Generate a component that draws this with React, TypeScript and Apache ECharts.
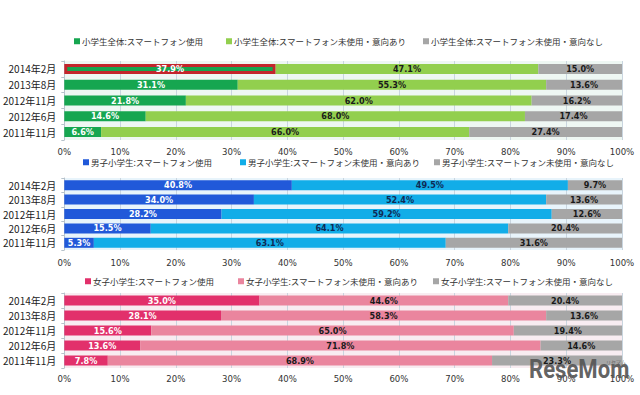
import React, { useEffect, useRef } from "react";
import * as echarts from "echarts";

const categories = ["2014年2月", "2013年8月", "2012年11月", "2012年6月", "2011年11月"];

const allNames = ["小学生全体:スマートフォン使用", "小学生全体:スマートフォン未使用・意向あり", "小学生全体:スマートフォン未使用・意向なし"];
const allUse = [37.9, 31.1, 21.8, 14.6, 6.6];
const allWant = [47.1, 55.3, 62.0, 68.0, 66.0];
const allNo = [15.0, 13.6, 16.2, 17.4, 27.4];

const boyNames = ["男子小学生:スマートフォン使用", "男子小学生:スマートフォン未使用・意向あり", "男子小学生:スマートフォン未使用・意向なし"];
const boyUse = [40.8, 34.0, 28.2, 15.5, 5.3];
const boyWant = [49.5, 52.4, 59.2, 64.1, 63.1];
const boyNo = [9.7, 13.6, 12.6, 20.4, 31.6];

const girlNames = ["女子小学生:スマートフォン使用", "女子小学生:スマートフォン未使用・意向あり", "女子小学生:スマートフォン未使用・意向なし"];
const girlUse = [35.0, 28.1, 15.6, 13.6, 7.8];
const girlWant = [44.6, 58.3, 65.0, 71.8, 68.9];
const girlNo = [20.4, 13.6, 19.4, 14.6, 23.3];

const xMin = 0;
const xMax = 100;
const xStep = 10;

const CJK = "'Noto Sans CJK JP', 'Noto Sans', sans-serif";
const NUM = "'Liberation Sans Narrow', 'DejaVu Sans Condensed', 'Liberation Sans', sans-serif";

const panels = [
  {
    names: allNames,
    data: [allUse, allWant, allNo],
    colors: ["#16a650", "#92cf4e", "#a6a6a6"],
    labelColors: ["#ffffff", "#1a1a1a", "#1a1a1a"],
    grid: { top: 61, height: 79 },
    bg: "#eef7f3",
    legendY: 43,
    legendX: [74, 226, 423],
    highlight: 0,
    labelMargin: 6,
  },
  {
    names: boyNames,
    data: [boyUse, boyWant, boyNo],
    colors: ["#2159d9", "#12ade8", "#a6a6a6"],
    labelColors: ["#ffffff", "#0f2a55", "#1a1a1a"],
    grid: { top: 178, height: 72 },
    bg: "#e8f4fb",
    legendY: 164,
    legendX: [83, 240, 434],
    highlight: -1,
    labelMargin: 7,
  },
  {
    names: girlNames,
    data: [girlUse, girlWant, girlNo],
    colors: ["#e2306b", "#ea859e", "#a6a6a6"],
    labelColors: ["#ffffff", "#1a1a1a", "#1a1a1a"],
    grid: { top: 293, height: 75 },
    bg: "#f8ecf1",
    legendY: 283,
    legendX: [85, 238, 433],
    highlight: -1,
    labelMargin: 5,
  },
];

export default function App() {
  const ref = useRef<HTMLDivElement>(null);
  useEffect(() => {
    if (!ref.current) return;
    const chart = echarts.init(ref.current, null, { renderer: "svg" });

    const grids: any[] = [];
    const xAxes: any[] = [];
    const yAxes: any[] = [];
    const series: any[] = [];
    const legends: any[] = [];

    panels.forEach((p, pi) => {
      grids.push({
        left: 58,
        right: 18,
        top: p.grid.top,
        height: p.grid.height,
        show: true,
        backgroundColor: p.bg,
        borderWidth: 0,
      });
      xAxes.push({
        type: "value",
        gridIndex: pi,
        min: xMin,
        max: xMax,
        interval: xStep,
        axisLine: { show: false },
        axisTick: { show: false },
        splitLine: { show: true, lineStyle: { color: "#c9d5df", width: 1 } },
        axisLabel: {
          formatter: "{value}%",
          fontSize: 9.5,
          color: "#333",
          fontFamily: NUM,
          margin: p.labelMargin,
        },
      });
      yAxes.push({
        type: "category",
        gridIndex: pi,
        data: categories,
        inverse: true,
        axisLine: { show: true, lineStyle: { color: "#b7c3cc" } },
        axisTick: { show: true, length: 3, lineStyle: { color: "#b7c3cc" } },
        axisLabel: { fontSize: 10, color: "#222", fontFamily: CJK, margin: 8 },
      });
      p.names.forEach((name, si) => {
        series.push({
          type: "bar",
          name,
          stack: "s" + pi,
          xAxisIndex: pi,
          yAxisIndex: pi,
          barWidth: 10,
          itemStyle: { color: p.colors[si] },
          label: {
            show: true,
            position: "inside",
            formatter: (v: any) => Number(v.value).toFixed(1) + "%",
            color: p.labelColors[si],
            fontSize: 9,
            fontWeight: "bold",
            fontFamily: NUM,
          },
          data: p.data[si].map((v, di) =>
            si === 0 && di === p.highlight
              ? { value: v, itemStyle: { borderColor: "#c3262c", borderWidth: 3 } }
              : v
          ),
        });
        legends.push({
          data: [name],
          left: p.legendX[si],
          top: p.legendY - 6,
          padding: 0,
          icon: "rect",
          itemWidth: 6,
          itemHeight: 6,
          itemGap: 3,
          selectedMode: false,
          textStyle: { fontSize: 8.5, color: "#333", fontFamily: CJK, padding: [0, 0, 0, -3] },
        });
      });
    });

    chart.setOption({
      animation: false,
      backgroundColor: "#ffffff",
      grid: grids,
      xAxis: xAxes,
      yAxis: yAxes,
      legend: legends,
      series,
      graphic: [
        {
          type: "text",
          x: 529,
          y: 356,
          scaleX: 0.85,
          z: 100,
          style: {
            text: "ReseMom",
            font: "bold 26px Roboto, sans-serif",
            fill: "#555555",
            opacity: 0.92,
          },
        },
        {
          type: "text",
          x: 606,
          y: 359,
          z: 100,
          style: {
            text: "リセマム",
            font: "5px 'Noto Sans CJK JP'",
            fill: "#666",
          },
        },
      ],
    });
    return () => chart.dispose();
  }, []);
  return (
    <div
      ref={ref}
      style={{ position: "absolute", left: 0, top: 0, width: 640, height: 395 }}
    />
  );
}
